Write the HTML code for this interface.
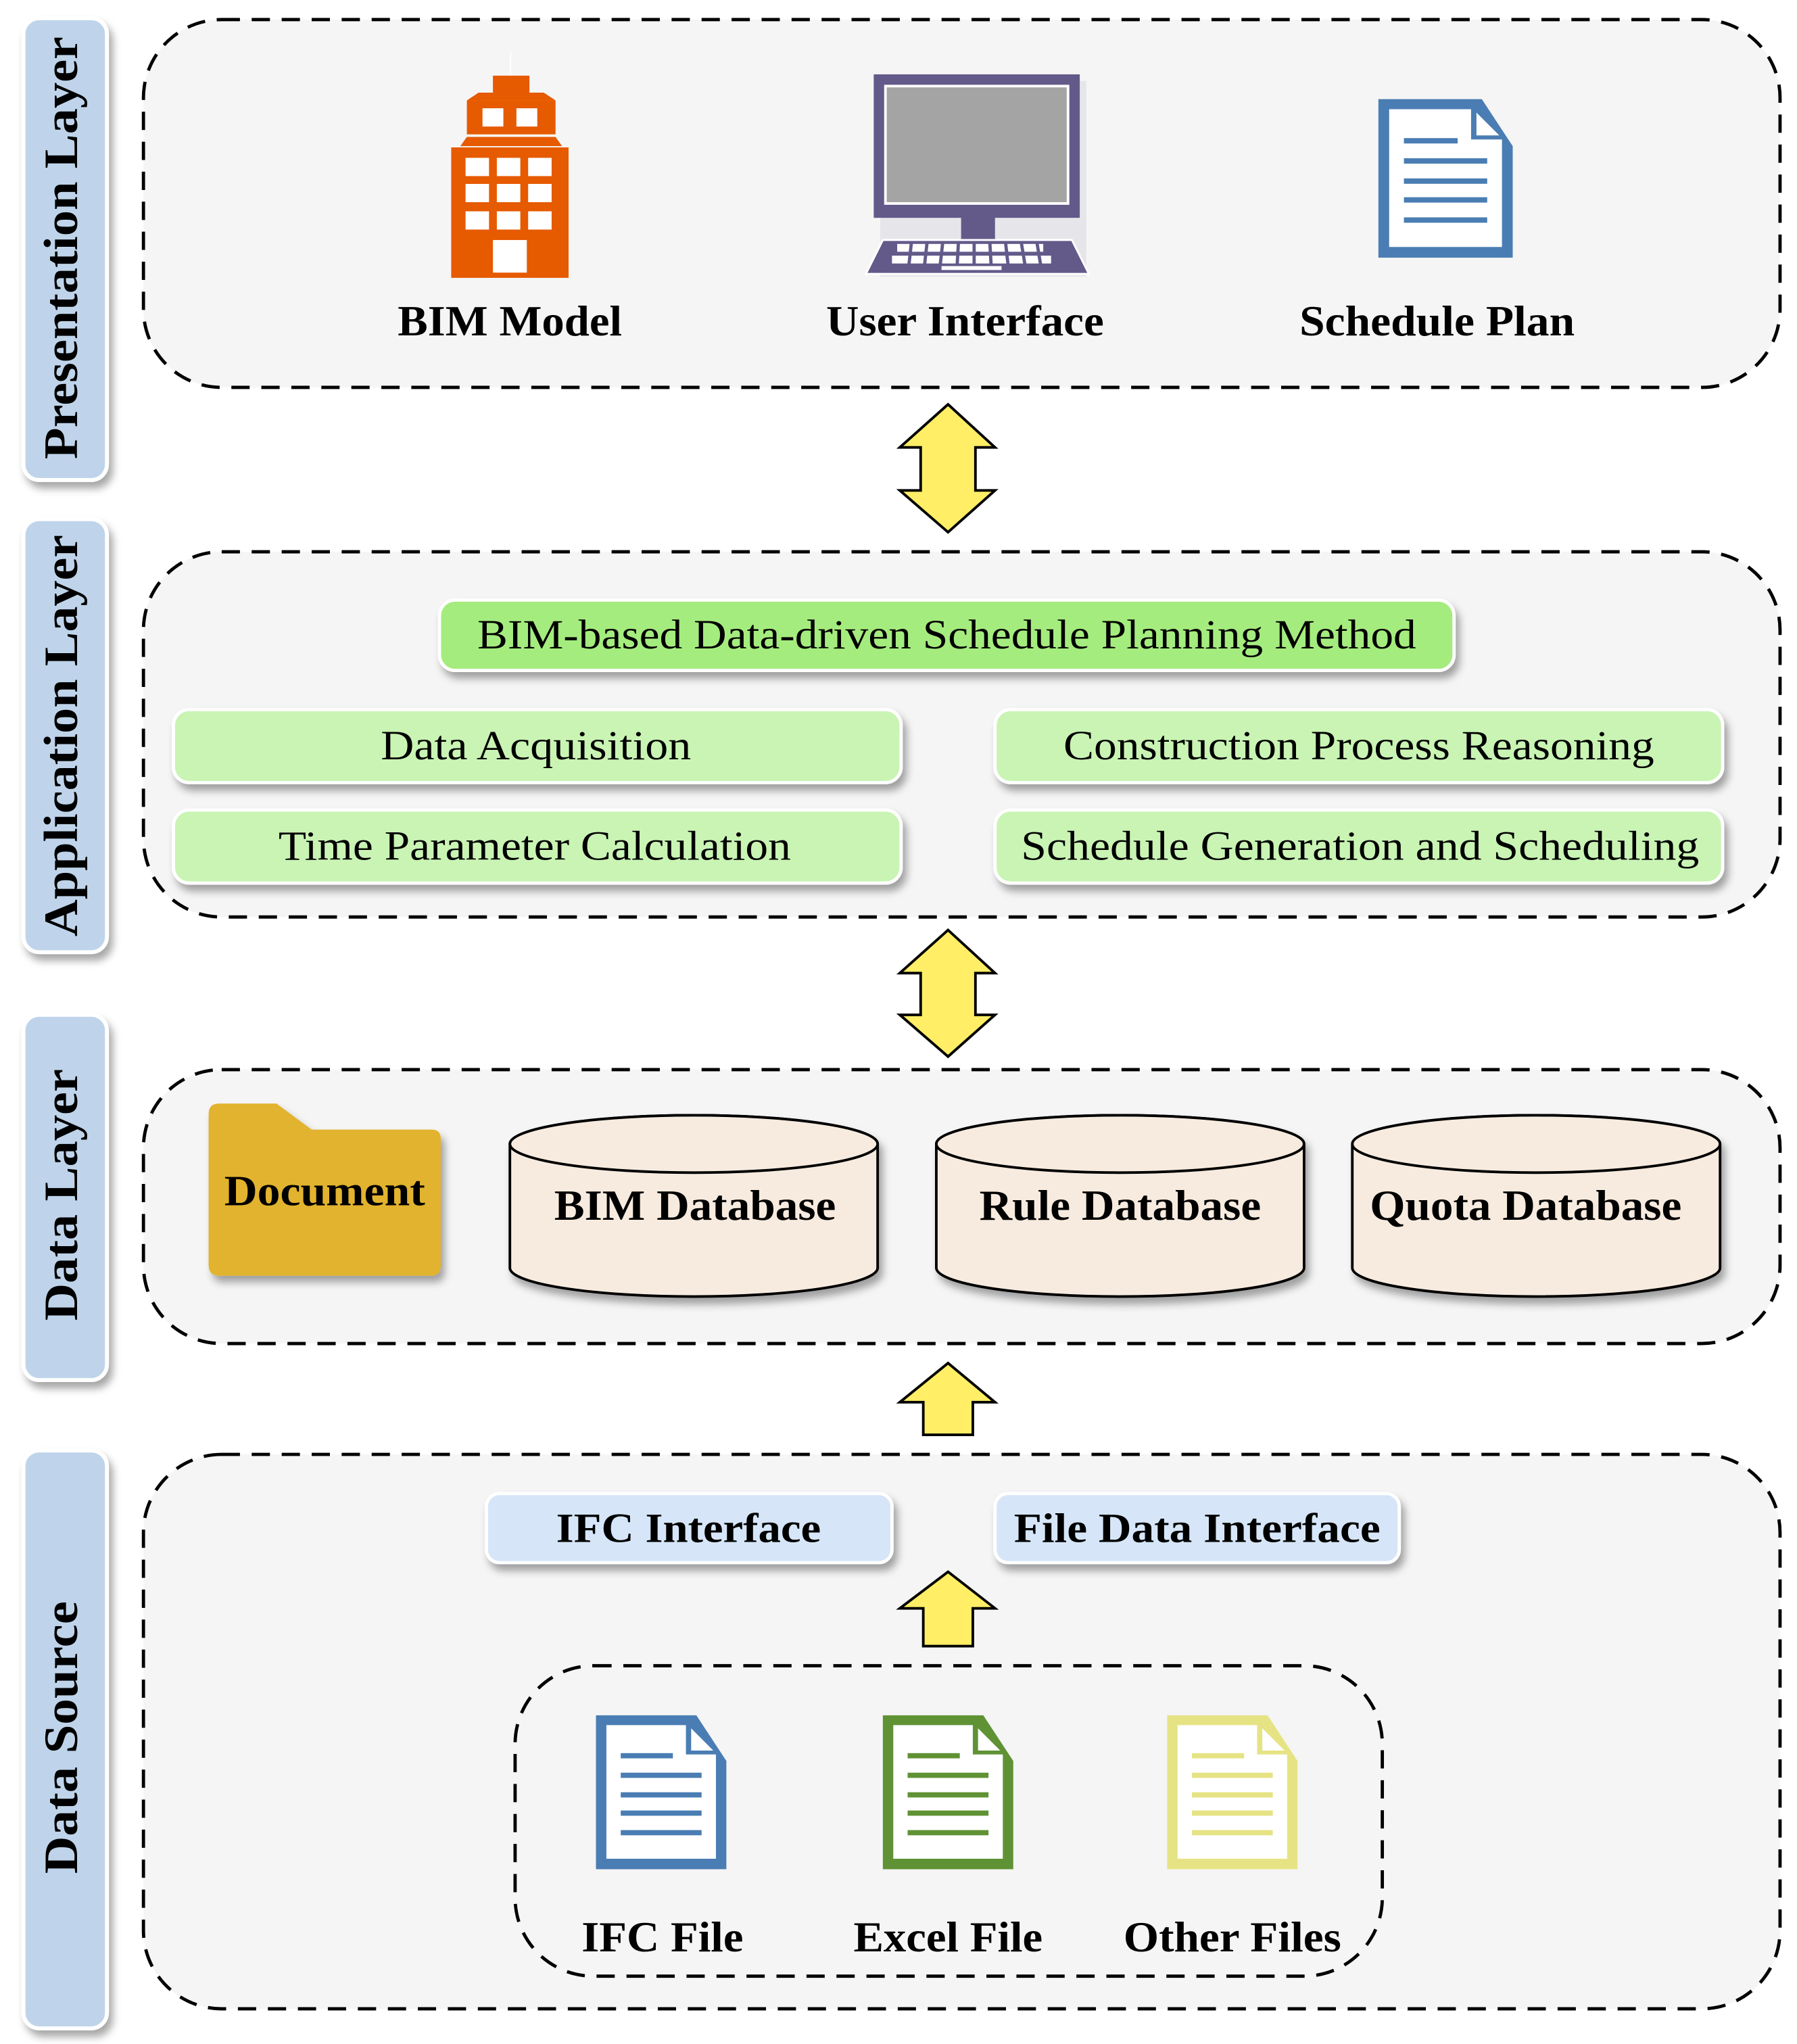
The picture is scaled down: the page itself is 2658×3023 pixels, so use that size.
<!DOCTYPE html>
<html><head><meta charset="utf-8"><style>
html,body{margin:0;padding:0;background:#fff;}
svg{display:block;}
text{font-family:"Liberation Serif",serif;}
</style></head><body>
<svg width="2658" height="3023" viewBox="0 0 1378 1567" preserveAspectRatio="none" xmlns="http://www.w3.org/2000/svg">
<defs>
<filter id="sh" x="-10%" y="-10%" width="130%" height="140%"><feDropShadow dx="3" dy="5" stdDeviation="3" flood-color="#000" flood-opacity="0.35"/></filter>
<g id="doc">
<path d="M0,0 H77 L100,35 V118 H0 Z"/>
<path d="M8,7.5 H69 V30 H92 V110 H8 Z" fill="#fff"/>
<path d="M73,10 L90,27 H73 Z" fill="#fff"/>
<rect x="19" y="29" width="40" height="4"/>
<rect x="19" y="44" width="62" height="4"/>
<rect x="19" y="59" width="62" height="4"/>
<rect x="19" y="73" width="62" height="4"/>
<rect x="19" y="88" width="62" height="4"/>
</g>
</defs>

<g filter="url(#sh)" fill="#bfd4ea" stroke="#fff" stroke-width="3">
<rect x="18" y="14" width="64" height="354" rx="12"/>
<rect x="18" y="398" width="64" height="332" rx="12"/>
<rect x="18" y="778" width="64" height="280" rx="12"/>
<rect x="18" y="1112" width="64" height="443" rx="12"/>
</g>
<g font-weight="bold" font-size="37" text-anchor="middle" fill="#000">
<text transform="translate(59,190) rotate(-90)" textLength="324" lengthAdjust="spacingAndGlyphs">Presentation Layer</text>
<text transform="translate(59,564) rotate(-90)" textLength="308" lengthAdjust="spacingAndGlyphs">Application Layer</text>
<text transform="translate(59,916) rotate(-90)" textLength="193" lengthAdjust="spacingAndGlyphs">Data Layer</text>
<text transform="translate(59,1332) rotate(-90)" textLength="209" lengthAdjust="spacingAndGlyphs">Data Source</text>
</g>

<g fill="#f5f5f5" stroke="#000" stroke-width="2.5" stroke-dasharray="14,9">
<rect x="110" y="15" width="1255" height="282" rx="60"/>
<rect x="110" y="423" width="1255" height="280" rx="60"/>
<rect x="110" y="820" width="1255" height="210" rx="60"/>
<rect x="110" y="1115" width="1255" height="425" rx="60"/>
<rect x="395" y="1277" width="665" height="238" rx="60"/>
</g>

<g fill="#e65a00">
<rect x="391" y="40" width="1" height="18" fill="#fff"/>
<rect x="378" y="58" width="28" height="13"/>
<path d="M367,71 H417 L426,77 H358 Z"/>
<rect x="358" y="77" width="68" height="26"/>
<path d="M358,105 H426 L431,112 H353 Z"/>
<rect x="346" y="113" width="90" height="100"/>
</g>
<g fill="#fff">
<rect x="370" y="83" width="16" height="14"/><rect x="396" y="83" width="16" height="14"/>
<rect x="357" y="121" width="18" height="14"/><rect x="381" y="121" width="18" height="14"/><rect x="405" y="121" width="18" height="14"/>
<rect x="357" y="141" width="18" height="14"/><rect x="381" y="141" width="18" height="14"/><rect x="405" y="141" width="18" height="14"/>
<rect x="357" y="162" width="18" height="14"/><rect x="381" y="162" width="18" height="14"/><rect x="405" y="162" width="18" height="14"/>
<rect x="378" y="184" width="26" height="25"/>
</g>

<rect x="675" y="62" width="158" height="150" fill="#e6e6ea"/>
<rect x="670" y="57" width="158" height="110" fill="#635a8a"/>
<rect x="679" y="66" width="140" height="90" fill="#a4a4a4" stroke="#fff" stroke-width="2"/>
<rect x="737" y="165" width="26" height="20" fill="#635a8a"/>
<path d="M677,184 H822 L835,210 H664 Z" fill="#635a8a" stroke="#fff" stroke-width="1.5"/>
<g fill="#fff">
<rect x="688" y="187" width="112" height="6"/>
<rect x="684" y="196" width="122" height="6"/>
<rect x="722" y="204" width="46" height="3"/>
</g>
<g stroke="#635a8a" stroke-width="2.5">
<line x1="699" y1="185" x2="697" y2="203"/><line x1="711" y1="185" x2="709" y2="203"/><line x1="723" y1="185" x2="721" y2="203"/><line x1="735" y1="185" x2="734" y2="203"/><line x1="747" y1="185" x2="747" y2="203"/><line x1="759" y1="185" x2="760" y2="203"/><line x1="771" y1="185" x2="773" y2="203"/><line x1="783" y1="185" x2="786" y2="203"/><line x1="795" y1="185" x2="798" y2="203"/>
</g>

<use href="#doc" fill="#4a7db3" transform="translate(1057,76) scale(1.03)"/>

<g font-weight="bold" font-size="33" text-anchor="middle" fill="#000">
<text x="391" y="257" textLength="172" lengthAdjust="spacingAndGlyphs">BIM Model</text>
<text x="740" y="257" textLength="213" lengthAdjust="spacingAndGlyphs">User Interface</text>
<text x="1102" y="257" textLength="211" lengthAdjust="spacingAndGlyphs">Schedule Plan</text>
</g>

<g fill="#ffee66" stroke="#000" stroke-width="2">
<path d="M727,310 L763,343 H748 V376 H763 L727,408 L690,376 H706 V343 H690 Z"/>
<path d="M727,713 L763,746 H748 V778 H763 L727,810 L690,778 H706 V746 H690 Z"/>
<path d="M727,1045 L763,1075 H746 V1100 H708 V1075 H690 Z"/>
<path d="M727,1205 L763,1233 H746 V1262 H708 V1233 H690 Z"/>
</g>

<g filter="url(#sh)" stroke="#fff" stroke-width="2.5">
<rect x="337" y="460" width="778" height="54" rx="12" fill="#a5ec7e"/>
<rect x="133" y="544" width="558" height="56" rx="12" fill="#c9f4b4"/>
<rect x="763" y="544" width="558" height="56" rx="12" fill="#c9f4b4"/>
<rect x="133" y="621" width="558" height="56" rx="12" fill="#c9f4b4"/>
<rect x="763" y="621" width="558" height="56" rx="12" fill="#c9f4b4"/>
</g>
<g font-size="32" text-anchor="middle" fill="#000">
<text x="726" y="497" textLength="720" lengthAdjust="spacingAndGlyphs">BIM-based Data-driven Schedule Planning Method</text>
<text x="411" y="582" textLength="238" lengthAdjust="spacingAndGlyphs">Data Acquisition</text>
<text x="1042" y="582" textLength="453" lengthAdjust="spacingAndGlyphs">Construction Process Reasoning</text>
<text x="410" y="659" textLength="393" lengthAdjust="spacingAndGlyphs">Time Parameter Calculation</text>
<text x="1043" y="659" textLength="520" lengthAdjust="spacingAndGlyphs">Schedule Generation and Scheduling</text>
</g>

<path filter="url(#sh)" d="M168,846 H212 L239,866 H331 Q338,866 338,873 V970 Q338,978 331,978 H168 Q160,978 160,970 V854 Q160,846 168,846 Z" fill="#e2b32f"/>

<g filter="url(#sh)" fill="#f7ebdf" stroke="#000" stroke-width="2">
<path d="M391,877 V972 A141,22 0 0 0 673,972 V877 A141,22 0 0 0 391,877 Z"/>
<ellipse cx="532" cy="877" rx="141" ry="22"/>
<path d="M718,877 V972 A141,22 0 0 0 1000,972 V877 A141,22 0 0 0 718,877 Z"/>
<ellipse cx="859" cy="877" rx="141" ry="22"/>
<path d="M1037,877 V972 A141,22 0 0 0 1319,972 V877 A141,22 0 0 0 1037,877 Z"/>
<ellipse cx="1178" cy="877" rx="141" ry="22"/>
</g>
<g font-weight="bold" font-size="33" text-anchor="middle" fill="#000">
<text x="249" y="924" textLength="154" lengthAdjust="spacingAndGlyphs">Document</text>
<text x="533" y="935" textLength="216" lengthAdjust="spacingAndGlyphs">BIM Database</text>
<text x="859" y="935" textLength="216" lengthAdjust="spacingAndGlyphs">Rule Database</text>
<text x="1170" y="935" textLength="239" lengthAdjust="spacingAndGlyphs">Quota Database</text>
</g>

<g filter="url(#sh)" stroke="#fff" stroke-width="2.5" fill="#d6e6f8">
<rect x="373" y="1145" width="311" height="53" rx="10"/>
<rect x="763" y="1145" width="310" height="53" rx="10"/>
</g>
<g font-weight="bold" font-size="32" text-anchor="middle" fill="#000">
<text x="528" y="1182" textLength="203" lengthAdjust="spacingAndGlyphs">IFC Interface</text>
<text x="918" y="1182" textLength="281" lengthAdjust="spacingAndGlyphs">File Data Interface</text>
</g>

<use href="#doc" fill="#4a7db3" transform="translate(457,1315)"/>
<use href="#doc" fill="#5f9234" transform="translate(677,1315)"/>
<use href="#doc" fill="#e6e384" transform="translate(895,1315)"/>
<g font-weight="bold" font-size="33" text-anchor="middle" fill="#000">
<text x="508" y="1496" textLength="124" lengthAdjust="spacingAndGlyphs">IFC File</text>
<text x="727" y="1496" textLength="145" lengthAdjust="spacingAndGlyphs">Excel File</text>
<text x="945" y="1496" textLength="167" lengthAdjust="spacingAndGlyphs">Other Files</text>
</g>
</svg>
</body></html>
